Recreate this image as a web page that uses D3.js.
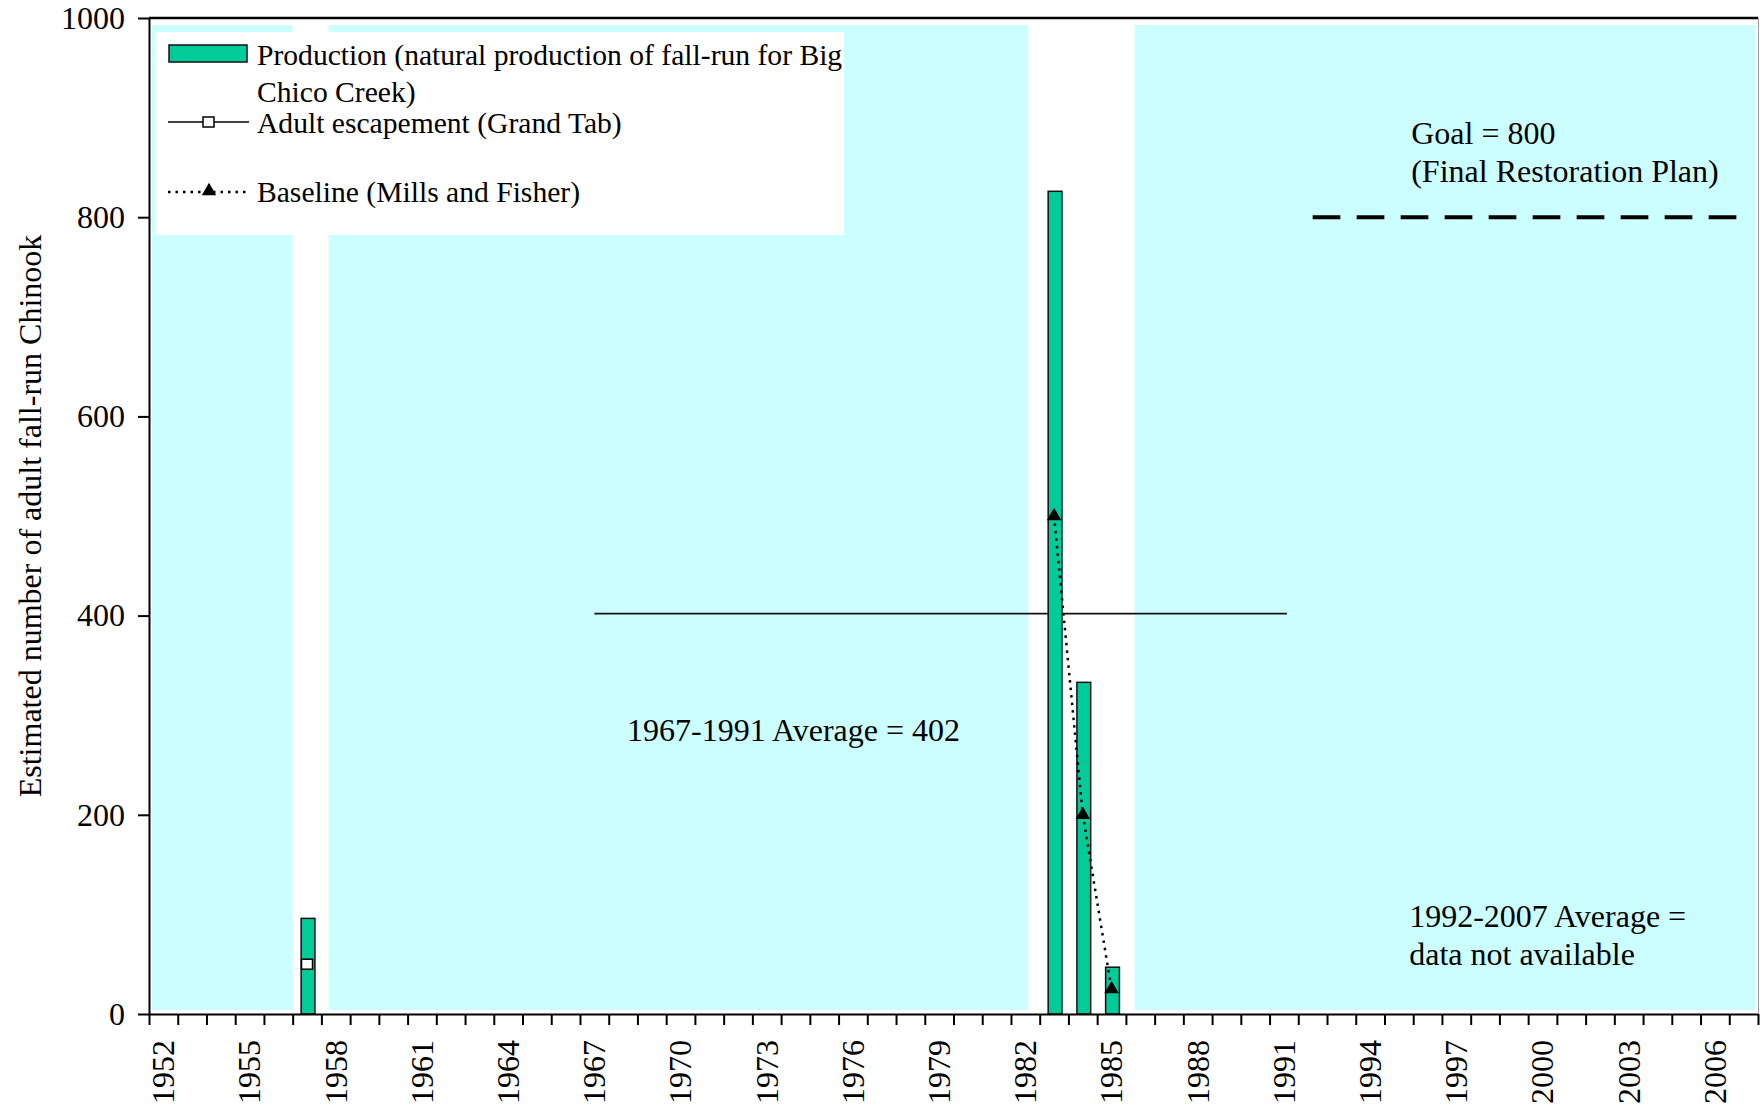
<!DOCTYPE html>
<html>
<head>
<meta charset="utf-8">
<script src="https://cdn.jsdelivr.net/npm/d3@7"></script>
<style>
  html, body { margin: 0; padding: 0; background: #fff; }
  svg { display: block; }
  text { font-family: "Liberation Serif", "Times New Roman", serif; fill: #000; }
</style>
</head>
<body>
<svg id="chart" width="1760" height="1105"></svg>
<script>
// Chart data.
const years = d3.range(1952, 2008);
const prodYears = [1957, 1983, 1984, 1985];
const prodValues = [96, 826, 333, 47];
const escYears = [1957];
const escValues = [50];
const baseYears = [1983, 1984, 1985];
const baseValues = [500, 200, 25];
const avgYears = [1967, 1991];
const avgValue = 402;
const goalYears = [1992, 2007];
const goalValue = 800;
// light cyan spans (in years) behind the bars
const shadeStart = [1951.6, 1957.75, 1985.8];
const shadeEnd = [1956.5, 1982.1, 2007.4];
const yTicks = [0, 200, 400, 600, 800, 1000];
const xLabelYears = years.filter((y) => (y - 1952) % 3 === 0);

const legendLabels = [
  ["Production (natural production of fall-run for Big", "Chico Creek)"],
  ["Adult escapement (Grand Tab)"],
  ["Baseline (Mills and Fisher)"],
];
const yTitle = "Estimated number of adult fall-run Chinook";

const W = 1760, H = 1105;
const m = { top: 18, right: 2, bottom: 91, left: 149 };
const GREEN = "#00CC99", CYAN = "#CCFFFF";
const FONT = "Liberation Serif";

const svg = d3.select("#chart");

const x = d3.scaleBand().domain(years)
  .range([m.left, W - m.right]).paddingInner(0.52).paddingOuter(0.26);
const xLin = d3.scaleLinear().domain([1951.5, 2007.5]).range([m.left, W - m.right]);
const y = d3.scaleLinear().domain([0, 1000]).range([H - m.bottom, m.top]);
const cx = (yr) => x(yr) + x.bandwidth() / 2;

// shaded background spans
svg.append("g").selectAll("rect")
  .data(shadeStart.map((s, i) => [s, shadeEnd[i]]))
  .join("rect")
  .attr("x", (d) => xLin(d[0]))
  .attr("width", (d) => xLin(d[1]) - xLin(d[0]))
  .attr("y", y(1000) + 7)
  .attr("height", y(0) - y(1000) - 11)
  .attr("fill", CYAN);

// legend box (white, drawn over the shading)
const lg = svg.append("g");
lg.append("rect")
  .attr("x", 155).attr("y", 32).attr("width", 689).attr("height", 203)
  .attr("fill", "#fff");

// average and goal lines
svg.append("line")
  .attr("x1", cx(avgYears[0])).attr("x2", cx(avgYears[1]) + 3)
  .attr("y1", y(avgValue)).attr("y2", y(avgValue))
  .attr("stroke", "#111").attr("stroke-width", 1.6);

svg.append("line")
  .attr("x1", cx(goalYears[0])).attr("x2", cx(goalYears[1]))
  .attr("y1", y(goalValue)).attr("y2", y(goalValue))
  .attr("stroke", "#000").attr("stroke-width", 4)
  .attr("stroke-dasharray", "27.7,16.3");

// production bars
svg.append("g").selectAll("rect")
  .data(prodYears.map((yr, i) => ({ yr, v: prodValues[i] })))
  .join("rect")
  .attr("x", (d) => x(d.yr) + 1)
  .attr("width", x.bandwidth())
  .attr("y", (d) => y(d.v))
  .attr("height", (d) => y(0) - y(d.v))
  .attr("fill", GREEN)
  .attr("stroke", "#111").attr("stroke-width", 1.5);

// baseline series (dotted, triangles)
const basePts = baseYears.map((yr, i) => [cx(yr), y(baseValues[i])]);
svg.append("path")
  .attr("d", d3.line()(basePts))
  .attr("fill", "none").attr("stroke", "#000")
  .attr("stroke-width", 2.5).attr("stroke-dasharray", "2.5,5");
const tri = d3.symbol().type(d3.symbolTriangle).size(90);
svg.append("g").selectAll("path")
  .data(basePts).join("path")
  .attr("transform", (d) => `translate(${d[0]},${d[1]})`)
  .attr("d", tri).attr("fill", "#000");

// escapement series (white squares)
svg.append("g").selectAll("rect")
  .data(escYears.map((yr, i) => [cx(yr), y(escValues[i])]))
  .join("rect")
  .attr("x", (d) => d[0] - 5.5).attr("y", (d) => d[1] - 5)
  .attr("width", 11).attr("height", 10)
  .attr("fill", "#fff").attr("stroke", "#000").attr("stroke-width", 1.5);

// axes
const yAxis = svg.append("g")
  .attr("transform", `translate(${m.left},0)`)
  .call(d3.axisLeft(y).tickValues(yTicks).tickFormat(d3.format("d"))
    .tickSize(11).tickSizeOuter(0).tickPadding(13));
const xAxis = svg.append("g")
  .attr("transform", `translate(0,${y(0)})`)
  .call(d3.axisBottom(xLin).tickValues(d3.range(1951.5, 2008, 1))
    .tickFormat("").tickSize(11).tickSizeOuter(0));
[yAxis, xAxis].forEach((g) => {
  g.attr("font-family", FONT);
  g.select(".domain").attr("stroke", "#000").attr("stroke-width", 2);
  g.selectAll(".tick line").attr("stroke", "#000").attr("stroke-width", 2);
});
yAxis.selectAll(".tick text")
  .attr("font-family", FONT).attr("font-size", 32).attr("fill", "#000");

svg.append("g").selectAll("text")
  .data(xLabelYears).join("text")
  .attr("transform", (d) => `translate(${cx(d)},1040) rotate(-90)`)
  .attr("text-anchor", "end").attr("dy", "0.34em")
  .attr("font-size", 32)
  .text((d) => d);

// plot frame: top black, right grey
svg.append("line")
  .attr("x1", m.left).attr("x2", W - m.right)
  .attr("y1", y(1000)).attr("y2", y(1000))
  .attr("stroke", "#000").attr("stroke-width", 2.5);
svg.append("line")
  .attr("x1", W - m.right + 0.5).attr("x2", W - m.right + 0.5)
  .attr("y1", y(1000)).attr("y2", y(0))
  .attr("stroke", "#999").attr("stroke-width", 1);

// y title
svg.append("text")
  .attr("transform", `translate(41,516) rotate(-90)`)
  .attr("text-anchor", "middle").attr("font-size", 32)
  .text(yTitle);

// legend entries
lg.append("rect")
  .attr("x", 169).attr("y", 45).attr("width", 78).attr("height", 17)
  .attr("fill", GREEN).attr("stroke", "#111").attr("stroke-width", 1.5);
lg.append("line")
  .attr("x1", 168).attr("x2", 249).attr("y1", 122).attr("y2", 122)
  .attr("stroke", "#000").attr("stroke-width", 1.5);
lg.append("rect")
  .attr("x", 203).attr("y", 117).attr("width", 11).attr("height", 10)
  .attr("fill", "#fff").attr("stroke", "#000").attr("stroke-width", 1.5);
lg.append("line")
  .attr("x1", 168).attr("x2", 249).attr("y1", 192).attr("y2", 192)
  .attr("stroke", "#000").attr("stroke-width", 2.5).attr("stroke-dasharray", "2.5,5");
lg.append("path")
  .attr("transform", "translate(209,191)").attr("d", tri).attr("fill", "#000");

const legendBase = [[65, 101.7], [133], [201.7]];
legendLabels.forEach((lines, i) => {
  lines.forEach((t, j) => {
    lg.append("text")
      .attr("x", 257).attr("y", legendBase[i][j])
      .attr("font-size", 29.6)
      .text(t);
  });
});

// annotations, anchored in data space
const notes = [
  { yr: 1995.43, v: 873, t: "Goal = 800" },
  { yr: 1995.43, v: 835, t: "(Final Restoration Plan)" },
  { yr: 1968.14, v: 274, t: "1967-1991 Average = 402" },
  { yr: 1995.36, v: 87, t: "1992-2007 Average =" },
  { yr: 1995.36, v: 49, t: "data not available" },
];
svg.append("g").selectAll("text")
  .data(notes).join("text")
  .attr("x", (d) => xLin(d.yr)).attr("y", (d) => y(d.v))
  .attr("font-size", 32)
  .text((d) => d.t);
</script>
</body>
</html>
